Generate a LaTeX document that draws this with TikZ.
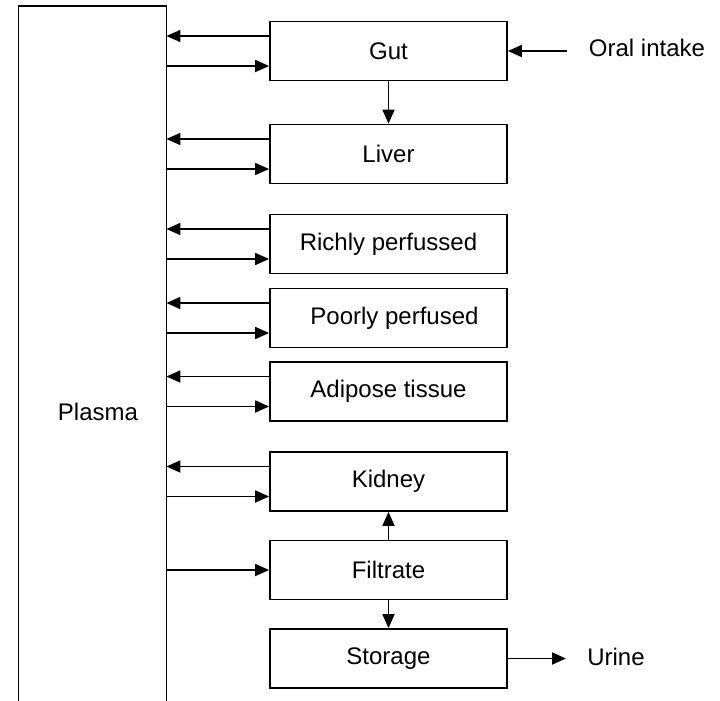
\documentclass[tikz,border=0pt]{standalone}
\usepackage{fontspec}
\setmainfont{Liberation Sans}
\usetikzlibrary{arrows.meta}
\begin{document}
\begin{tikzpicture}[x=1pt,y=-1pt,
  organ/.style={draw, line width=1.8pt, minimum width=237pt, minimum height=59pt, inner sep=0pt, font=\fontsize{24}{28}\selectfont},
  lbl/.style={font=\fontsize{24}{28}\selectfont, inner sep=0pt},
  arr/.style={line width=1.8pt, -{Triangle[length=14pt,width=12pt]}}]
\useasboundingbox (0,0) rectangle (720,701);
% plasma compartment (open at bottom)
\node[minimum width=147.5pt, minimum height=700pt, anchor=north west, inner sep=0pt] (plasma) at (18.5,6) {};
\draw[line width=1.8pt] (plasma.south west) |- (plasma.north east) -- (plasma.south east);
\node[lbl] (plasmalbl) at (98,412) {Plasma};
% organ boxes
\node[organ] (gut)   at (388.5,51)    {Gut};
\node[organ] (liver) at (388.5,154)   {Liver};
\node[organ] (rich)  at (388.5,244)   {Richly perfussed};
\node[organ] (poor)  at (388.5,318)   {\hspace{12pt}Poorly perfused};
\node[organ] (adip)  at (388.5,391.5) {Adipose tissue};
\node[organ] (kid)   at (388.5,481.5) {Kidney};
\node[organ] (filt)  at (388.5,570)   {Filtrate};
\node[organ] (stor)  at (388.5,658.5) {Storage};
% external labels
\node[lbl] (oral)  at (647,48)  {Oral intake};
\node[lbl] (urine) at (616,657) {Urine};
\coordinate (oralstart) at (567,51);
\coordinate (urineend) at (566,658.5);
% exchange arrows with plasma
\foreach \b in {gut,liver,rich,poor,adip,kid}{
  \coordinate (\b-o) at ([yshift=15pt]\b.west);
  \coordinate (\b-i) at ([yshift=-15pt]\b.west);
  \draw[arr] (\b-o) -- (\b-o -| plasma.east);
  \draw[arr] (\b-i -| plasma.east) -- (\b-i);
}
\draw[arr] (filt.west -| plasma.east) -- (filt.west);
% vertical flows
\draw[arr] (gut.south) -- (liver.north);
\draw[arr] (filt.north) -- (kid.south);
\draw[arr] (filt.south) -- (stor.north);
% in / out
\draw[arr] (oralstart) -- (gut.east);
\draw[arr] (stor.east) -- (urineend);
\end{tikzpicture}
\end{document}
